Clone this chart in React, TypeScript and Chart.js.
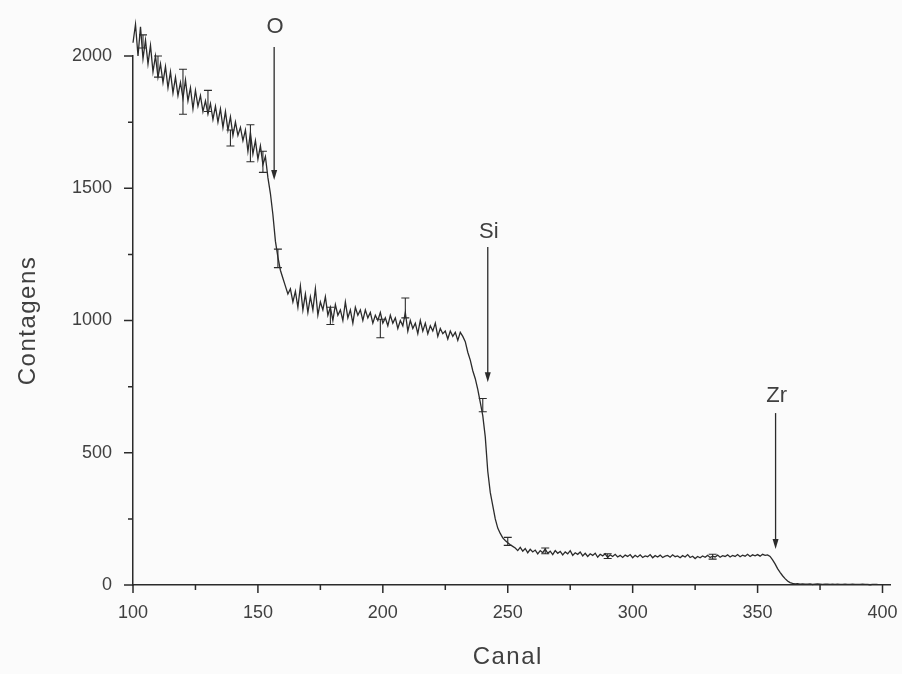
import React, { useEffect, useRef } from 'react';
import { Chart, registerables } from 'chart.js';

Chart.register(...registerables);

// Channel numbers start at 100, one count per channel
const firstChannel = 100;
const counts = [
  2050, 2120, 2000, 2110, 1990, 2060, 1970, 2040, 1940, 2000,
  1920, 1970, 1900, 1960, 1880, 1940, 1860, 1920, 1850, 1900,
  1840, 1910, 1830, 1880, 1800, 1870, 1810, 1850, 1790, 1830,
  1780, 1820, 1760, 1810, 1750, 1800, 1730, 1790, 1720, 1770,
  1700, 1750, 1700, 1730, 1680, 1720, 1640, 1710, 1630, 1680,
  1610, 1660, 1590, 1620, 1540, 1480, 1400, 1300, 1240, 1190,
  1160, 1130, 1100, 1120, 1070, 1110, 1050, 1130, 1040, 1100,
  1030, 1090, 1040, 1120, 1020, 1070, 1040, 1090, 1020, 1050,
  1000, 1060, 1020, 1040, 1000, 1070, 1010, 1040, 990, 1050,
  1020, 1040, 1000, 1040, 1010, 1030, 990, 1020, 1000, 1030,
  990, 1010, 980, 1020, 990, 1010, 970, 1000, 980, 1030,
  960, 1000, 970, 990, 950, 1000, 960, 990, 950, 980,
  960, 990, 940, 970, 950, 960, 930, 960, 940, 955,
  925, 955, 940, 920, 880, 850, 810, 780, 740, 690,
  640, 560, 430, 350, 300, 250, 215, 195, 178, 168,
  160, 152, 146, 140, 130, 142, 128, 138, 122, 135,
  125, 132, 118, 130, 122, 136, 120, 128, 115, 130,
  120, 127, 114, 125, 118, 130, 112, 122, 116, 125,
  110, 120, 108, 118, 112, 120, 105, 116, 110, 118,
  104, 114, 108, 116, 106, 112, 104, 113, 108, 115,
  103, 112, 106, 114, 104, 110, 107, 115, 103, 111,
  106, 113, 104, 109, 112, 105, 114, 107, 110, 103,
  111, 106, 115, 104, 109, 100, 108, 103, 110, 105,
  112, 104, 109, 106, 113, 105, 111, 108, 114, 106,
  112, 108, 115, 107, 113, 109, 116, 108, 114, 110,
  115, 109, 116, 112, 114, 108, 95, 80, 62, 48,
  35, 24, 15, 9, 6, 4, 5, 3, 4, 3,
  3, 4, 2, 3, 4, 3, 2, 3, 3, 2,
  3, 2, 3, 2, 2, 3, 2, 2, 3, 2,
  2, 2, 3, 2, 2, 1, 2, 2, 2,
];

// Error bars
const errX = [104, 110, 120, 130, 139, 147, 152, 158, 179, 199, 209, 240, 250, 265, 290, 332];
const errLow = [2030, 1920, 1780, 1790, 1660, 1600, 1560, 1200, 985, 935, 1010, 655, 150, 118, 100, 98];
const errHigh = [2080, 2000, 1950, 1870, 1720, 1740, 1640, 1270, 1050, 1005, 1085, 705, 180, 140, 118, 116];

// Element edge markers
const peakLabels = ['O', 'Si', 'Zr'];
const peakChannels = [156.5, 242, 357.2];
const arrowTop = [2034, 1278, 650];
const arrowTip = [1531, 767, 136];
const labelY = [2108, 1335, 715];

// Axis ticks
const xTicks = [100, 150, 200, 250, 300, 350, 400];
const xMinorTicks = [125, 175, 225, 275, 325, 375];
const yTicks = [0, 500, 1000, 1500, 2000];
const yMinorTicks = [250, 750, 1250, 1750];

const xTitle = 'Canal';
const yTitle = 'Contagens';

const FONT = '"Liberation Sans", Arial, Helvetica, sans-serif';
const INK = '#2b2b2b';
const TEXT = '#404040';

const decor = {
  id: 'decor',
  beforeDraw(chart: any) {
    const { ctx, width, height } = chart;
    ctx.save();
    ctx.fillStyle = '#fbfbfb';
    ctx.fillRect(0, 0, width, height);
    ctx.restore();
  },
  afterDraw(chart: any) {
    const { ctx, chartArea } = chart;
    const xs = chart.scales.x;
    const ys = chart.scales.y;
    const y0 = ys.getPixelForValue(0);
    const x0 = xs.getPixelForValue(100);
    ctx.save();
    ctx.strokeStyle = INK;
    ctx.lineWidth = 1.5;
    ctx.beginPath();
    xTicks.forEach((v) => {
      const p = xs.getPixelForValue(v);
      ctx.moveTo(p, y0);
      ctx.lineTo(p, y0 + 8);
    });
    xMinorTicks.forEach((v) => {
      const p = xs.getPixelForValue(v);
      ctx.moveTo(p, y0);
      ctx.lineTo(p, y0 + 5);
    });
    yTicks.forEach((v) => {
      const p = ys.getPixelForValue(v);
      ctx.moveTo(x0, p);
      ctx.lineTo(x0 - 9, p);
    });
    yMinorTicks.forEach((v) => {
      const p = ys.getPixelForValue(v);
      ctx.moveTo(x0, p);
      ctx.lineTo(x0 - 5, p);
    });
    ctx.stroke();

    // error bars
    ctx.lineWidth = 1.1;
    ctx.beginPath();
    errX.forEach((v, i) => {
      const p = xs.getPixelForValue(v);
      const lo = ys.getPixelForValue(errLow[i]);
      const hi = ys.getPixelForValue(errHigh[i]);
      ctx.moveTo(p, lo);
      ctx.lineTo(p, hi);
      ctx.moveTo(p - 4, lo);
      ctx.lineTo(p + 4, lo);
      ctx.moveTo(p - 4, hi);
      ctx.lineTo(p + 4, hi);
    });
    ctx.stroke();

    // arrows and labels
    ctx.fillStyle = INK;
    peakChannels.forEach((v, i) => {
      const p = xs.getPixelForValue(v);
      const t = ys.getPixelForValue(arrowTop[i]);
      const b = ys.getPixelForValue(arrowTip[i]);
      ctx.lineWidth = 1.3;
      ctx.beginPath();
      ctx.moveTo(p, t);
      ctx.lineTo(p, b - 7);
      ctx.stroke();
      ctx.beginPath();
      ctx.moveTo(p, b);
      ctx.lineTo(p - 3, b - 10);
      ctx.lineTo(p + 3, b - 10);
      ctx.closePath();
      ctx.fill();
      ctx.fillStyle = TEXT;
      ctx.font = `22px ${FONT}`;
      ctx.textAlign = 'center';
      ctx.textBaseline = 'middle';
      ctx.fillText(peakLabels[i], p + 1, ys.getPixelForValue(labelY[i]));
      ctx.fillStyle = INK;
    });

    // axis titles
    ctx.fillStyle = TEXT;
    ctx.font = `24px ${FONT}`;
    (ctx as any).letterSpacing = '1.5px';
    ctx.textAlign = 'center';
    ctx.textBaseline = 'middle';
    ctx.fillText(xTitle, (chartArea.left + xs.getPixelForValue(400)) / 2, chartArea.bottom + 72);
    ctx.translate(chartArea.left - 105, (chartArea.top + chartArea.bottom) / 2);
    ctx.rotate(-Math.PI / 2);
    ctx.fillText(yTitle, 0, 0);
    ctx.restore();
  },
};

export default function App() {
  const ref = useRef<HTMLCanvasElement>(null);
  useEffect(() => {
    if (!ref.current) return;
    const points = counts.map((c, i) => ({ x: firstChannel + i, y: c }));
    const chart = new Chart(ref.current, {
      type: 'line',
      data: {
        datasets: [
          {
            data: points,
            borderColor: INK,
            borderWidth: 1.3,
            pointRadius: 0,
            tension: 0,
            fill: false,
            clip: false as any,
          },
        ],
      },
      options: {
        animation: false,
        responsive: true,
        maintainAspectRatio: false,
        layout: { padding: { top: 56, right: 12, left: 0, bottom: 0 } },
        plugins: { legend: { display: false }, tooltip: { enabled: false }, title: { display: false } },
        scales: {
          x: {
            type: 'linear',
            min: 100,
            max: 403,
            afterBuildTicks: (s: any) => {
              s.ticks = xTicks.map((v) => ({ value: v }));
            },
            afterFit: (s: any) => {
              s.height = 89;
              s.paddingLeft = 0;
              s.paddingRight = 0;
            },
            grid: { display: false, drawTicks: false },
            border: { display: true, color: INK, width: 1.5 },
            ticks: {
              color: TEXT,
              font: { family: FONT, size: 18 },
              padding: 17,
              maxRotation: 0,
              autoSkip: false,
              callback: (v: any) => String(v),
            },
          },
          y: {
            type: 'linear',
            min: 0,
            max: 2000,
            afterBuildTicks: (s: any) => {
              s.ticks = yTicks.map((v) => ({ value: v }));
            },
            afterFit: (s: any) => {
              s.width = 133;
              s.paddingTop = 0;
              s.paddingBottom = 0;
            },
            grid: { display: false, drawTicks: false },
            border: { display: true, color: INK, width: 1.5 },
            ticks: {
              color: TEXT,
              font: { family: FONT, size: 18 },
              padding: 21,
              autoSkip: false,
              callback: (v: any) => String(v),
            },
          },
        },
      },
      plugins: [decor],
    });
    return () => chart.destroy();
  }, []);
  return (
    <div style={{ position: 'absolute', left: 0, top: 0, width: 902, height: 674 }}>
      <canvas ref={ref} />
    </div>
  );
}
